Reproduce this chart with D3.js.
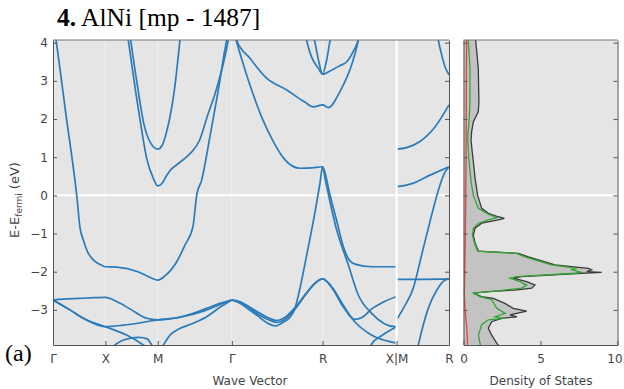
<!DOCTYPE html>
<html><head><meta charset="utf-8">
<script src="https://cdn.jsdelivr.net/npm/d3@7"></script>
<style>body{margin:0;background:#fff}svg{display:block}</style>
</head><body>
<svg id="chart" width="624" height="389"></svg>
<script>
// High-symmetry path of the simple-cubic Brillouin zone (k in units of 2π/a)
const kPoints = [0, 0.5, 1.0, 1.707, 2.573, 3.280, 3.780];
const kLabels = ["Γ", "X", "M", "Γ", "R", "X|M", "R"];
const energyTicks = [-3, -2, -1, 0, 1, 2, 3, 4];
const dosTicks = [0, 5, 10];

// Electronic bands, each as [k, E - E_fermi] points
const bandA = [[0,4.6],[0.029,4.07],[0.124,2.11],[0.21,0.38],[0.226,0.01],[0.258,-0.85],[0.289,-1.17],[0.33,-1.48],[0.385,-1.69],[0.45,-1.81],[0.5,-1.87],[0.608,-1.88],[0.811,-2.0],[0.93,-2.15],[1.0,-2.22],[1.069,-2.11],[1.181,-1.74],[1.26,-1.30],[1.336,-0.82],[1.372,0.01],[1.419,0.40],[1.499,1.55],[1.575,2.71],[1.658,4.07],[1.707,4.6]];
const bandF = [[0.70,5.0],[0.742,4.07],[0.805,2.89],[0.87,1.84],[0.93,1.38],[1.0,1.21],[1.04,1.3],[1.085,1.67],[1.165,2.89],[1.212,4.07],[1.25,5.0]];
const bandG = [[0.69,4.6],[0.719,4.07],[0.79,2.7],[0.83,2.0],[0.894,0.97],[0.957,0.45],[1.0,0.25],[1.04,0.31],[1.08,0.5],[1.12,0.66],[1.18,0.80],[1.25,0.95],[1.31,1.10],[1.40,1.45],[1.467,2.02],[1.563,2.81],[1.673,4.07],[1.71,4.7]];
const bandH = [[1.707,4.5],[1.752,4.07],[1.88,3.59],[2.039,3.07],[2.231,2.76],[2.40,2.45],[2.485,2.32],[2.573,2.37],[2.628,2.30],[2.739,2.72],[2.86,3.5],[2.915,4.07],[2.95,4.6]];
const bandI = [[1.707,4.45],[1.747,4.07],[1.88,2.89],[1.995,2.03],[2.103,1.41],[2.215,0.93],[2.358,0.71],[2.472,0.72],[2.573,0.75],[2.644,0.01],[2.711,-0.70],[2.771,-1.34],[2.816,-1.64],[2.883,-1.80],[3.042,-1.87],[3.28,-1.87]];
const bandJ1 = [[2.386,4.5],[2.42,4.07],[2.46,3.68],[2.53,3.34],[2.573,3.18],[2.608,3.49],[2.645,4.07],[2.673,4.5]];
const bandJ2 = [[2.45,4.7],[2.496,4.07],[2.534,3.55],[2.573,3.17],[2.645,3.26],[2.74,3.40],[2.804,3.50],[2.864,3.76],[2.914,4.07],[2.95,4.5]];
const bandK1 = [[1.707,-2.74],[1.78,-2.78],[1.85,-2.88],[1.95,-3.05],[2.05,-3.2],[2.135,-3.28],[2.2,-3.22],[2.31,-2.94],[2.42,-2.55],[2.5,-2.3],[2.573,-2.19],[2.67,-2.43],[2.765,-2.85],[2.88,-3.25],[2.95,-3.2],[3.04,-2.98],[3.15,-2.8],[3.28,-2.65]];
const bandK2 = [[1.707,-2.74],[1.78,-2.8],[1.85,-2.9],[1.95,-3.1],[2.05,-3.25],[2.135,-3.33],[2.2,-3.27],[2.31,-2.98],[2.42,-2.57],[2.5,-2.31],[2.573,-2.19],[2.67,-2.45],[2.765,-2.9],[2.88,-3.31],[3.04,-3.66],[3.28,-3.87]];
const bandK3 = [[1.707,-2.74],[1.78,-2.82],[1.85,-2.95],[1.95,-3.15],[2.05,-3.35],[2.12,-3.42],[2.2,-3.32],[2.26,-3.2],[2.31,-2.96],[2.36,-2.4],[2.422,-1.56],[2.5,-0.45],[2.55,0.35],[2.573,0.75],[2.6,0.4],[2.708,-0.91],[2.819,-1.82],[2.914,-2.61],[3.042,-3.09],[3.265,-3.44],[3.28,-3.44]];
const bandL5 = [[3.0,-4.2],[3.04,-3.9],[3.15,-3.65],[3.28,-3.44]];
const bandB = [[0,-2.74],[0.1,-2.72],[0.25,-2.70],[0.4,-2.68],[0.5,-2.67],[0.608,-2.78],[0.75,-3.0],[0.894,-3.22],[1.0,-3.26],[1.244,-3.17],[1.467,-2.96],[1.6,-2.82],[1.707,-2.74]];
const bandC = [[0,-2.74],[0.162,-3.0],[0.289,-3.22],[0.5,-3.44],[0.671,-3.40],[0.85,-3.33],[1.0,-3.26],[1.2,-3.2],[1.45,-3.02],[1.6,-2.85],[1.707,-2.74]];
const bandD = [[0,-2.74],[0.162,-3.0],[0.289,-3.22],[0.5,-3.44],[0.703,-3.66],[0.862,-3.92],[0.95,-4.1]];
const bandE = [[0.5,-4.3],[0.592,-3.92],[0.74,-3.74],[0.82,-3.72],[0.90,-3.76],[0.942,-3.92],[1.0,-4.15],[1.053,-3.92],[1.117,-3.66],[1.181,-3.53],[1.339,-3.35],[1.467,-3.18],[1.6,-2.92],[1.707,-2.74]];
const bandMR1 = [[3.28,1.21],[3.376,1.25],[3.503,1.41],[3.646,1.79],[3.78,2.37]];
const bandMR2 = [[3.28,0.23],[3.376,0.27],[3.44,0.32],[3.598,0.53],[3.78,0.75]];
const bandMR3 = [[3.65,4.6],[3.678,4.07],[3.71,3.68],[3.745,3.35],[3.78,3.16]];
const bandMR4 = [[3.28,-2.2],[3.53,-2.2],[3.78,-2.19]];
const bandMR5 = [[3.28,-3.26],[3.344,-2.96],[3.439,-2.43],[3.52,-1.55],[3.598,-0.69],[3.68,0.15],[3.74,0.6],[3.78,0.75]];
const bandMR6 = [[3.42,-4.8],[3.487,-3.92],[3.582,-2.96],[3.66,-2.5],[3.742,-2.22],[3.78,-2.19]];
const bands = [bandA, bandF, bandG, bandH, bandI, bandJ1, bandJ2, bandK1, bandK2, bandK3, bandL5,
               bandB, bandC, bandD, bandE, bandMR1, bandMR2, bandMR3, bandMR4, bandMR5, bandMR6];

// Density of states, [E - E_fermi, states/eV]
const dosTotal = [[4.07,0.79],[3.77,0.86],[3.33,0.96],[2.45,1.0],[2.19,0.96],[1.93,0.64],[1.67,0.53],[1.45,0.49],[1.2,0.55],[0.88,0.64],[0.45,0.75],[0.0,0.92],[-0.34,1.18],[-0.47,1.61],[-0.56,2.26],[-0.60,2.65],[-0.64,2.26],[-0.73,1.18],[-0.86,0.75],[-1.04,0.64],[-1.25,0.75],[-1.46,0.97],[-1.52,3.56],[-1.61,4.21],[-1.82,5.94],[-1.91,8.10],[-1.95,8.32],[-2.0,8.0],[-2.02,8.97],[-2.04,7.67],[-2.13,3.78],[-2.17,3.23],[-2.26,4.10],[-2.35,4.64],[-2.43,4.43],[-2.48,3.34],[-2.52,1.61],[-2.56,0.64],[-2.65,1.18],[-2.70,1.94],[-2.83,2.69],[-2.96,3.23],[-3.03,4.1],[-3.13,3.02],[-3.18,3.46],[-3.22,2.48],[-3.31,1.83],[-3.48,1.61],[-3.66,1.83],[-3.87,2.16],[-3.95,2.3]];
const dosNi = [[4.07,0.31],[3.33,0.42],[2.45,0.42],[1.93,0.36],[1.5,0.27],[0.88,0.36],[0.36,0.49],[0.0,0.64],[-0.34,0.96],[-0.49,1.61],[-0.58,2.16],[-0.64,1.61],[-0.73,0.97],[-0.86,0.64],[-1.04,0.58],[-1.25,0.71],[-1.46,0.92],[-1.52,3.46],[-1.61,3.99],[-1.82,5.72],[-1.91,7.36],[-1.95,7.03],[-2.02,7.67],[-2.04,7.25],[-2.13,3.46],[-2.17,3.02],[-2.26,3.67],[-2.35,4.1],[-2.43,3.78],[-2.50,2.26],[-2.56,0.64],[-2.65,1.07],[-2.73,1.83],[-2.96,2.16],[-3.09,2.7],[-3.18,2.05],[-3.22,2.59],[-3.26,1.61],[-3.39,1.18],[-3.66,0.97],[-3.87,1.07],[-3.95,1.1]];
const dosAl = [[4.07,0.2],[2.0,0.18],[0.0,0.15],[-1.5,0.1],[-2.0,0.08],[-2.6,0.05],[-3.0,0.1],[-3.4,0.2],[-3.95,0.27]];

const svg = d3.select("#chart");
const panelTop = 40, panelBottom = 345;
const bandLeft = 53, bandRight = 449;
const dosLeft = 463.5, dosRight = 617.5;
const axisFont = "'DejaVu Sans', Verdana, sans-serif";
const textColor = "#444";

const y = d3.scaleLinear().domain([-3.92, 4.07]).range([panelBottom, panelTop]);
const x = d3.scaleLinear().domain([0, 3.78]).range([bandLeft, bandRight]);
const xd = d3.scaleLinear().domain([0, 10]).range([dosLeft, dosRight]);

const defs = svg.append("defs");
defs.append("clipPath").attr("id", "clipBands").append("rect")
  .attr("x", bandLeft).attr("y", panelTop).attr("width", bandRight - bandLeft).attr("height", panelBottom - panelTop);
defs.append("clipPath").attr("id", "clipDos").append("rect")
  .attr("x", dosLeft).attr("y", panelTop).attr("width", dosRight - dosLeft).attr("height", panelBottom - panelTop);

// ---------- band structure panel ----------
const gb = svg.append("g");
gb.append("rect").attr("x", bandLeft).attr("y", panelTop)
  .attr("width", bandRight - bandLeft).attr("height", panelBottom - panelTop).attr("fill", "#e5e5e5");
gb.selectAll("line.kgrid").data(kPoints.slice(1, -1)).join("line").attr("class", "kgrid")
  .attr("x1", d => x(d)).attr("x2", d => x(d)).attr("y1", panelTop).attr("y2", panelBottom)
  .attr("stroke", "#f0f0f0").attr("stroke-width", 1);
gb.append("line").attr("x1", bandLeft).attr("x2", bandRight).attr("y1", y(0)).attr("y2", y(0))
  .attr("stroke", "#fff").attr("stroke-width", 2);

const bandLine = d3.line().x(d => x(d[0])).y(d => y(d[1])).curve(d3.curveMonotoneX);
gb.append("g").attr("clip-path", "url(#clipBands)")
  .selectAll("path").data(bands).join("path")
  .attr("d", bandLine).attr("fill", "none").attr("stroke", "#2b7bba").attr("stroke-width", 1.7);

// segment break at X|M
gb.append("line").attr("x1", x(kPoints[5])).attr("x2", x(kPoints[5])).attr("y1", panelTop).attr("y2", panelBottom - 1)
  .attr("stroke", "#fff").attr("stroke-width", 2.2);

function styleAxis(g) {
  g.selectAll("path.domain").attr("stroke", "#555").attr("stroke-width", 1);
  g.selectAll(".tick line").attr("stroke", "#555").attr("stroke-width", 1);
  g.selectAll(".tick text").attr("fill", textColor).attr("font-family", axisFont).attr("font-size", 12);
}

gb.append("g").attr("transform", `translate(${bandLeft},0)`)
  .call(d3.axisLeft(y).tickValues(energyTicks).tickSizeInner(-4).tickSizeOuter(0).tickPadding(5)
    .tickFormat(d => d < 0 ? "\u2212" + Math.abs(d) : d))
  .call(styleAxis);
gb.append("g").attr("transform", `translate(${bandRight},0)`)
  .call(d3.axisRight(y).tickValues(energyTicks).tickSizeInner(-4).tickSizeOuter(0).tickFormat(""))
  .call(styleAxis);
gb.append("g").attr("transform", `translate(0,${panelBottom})`)
  .call(d3.axisBottom(x).tickValues(kPoints).tickSizeInner(-4).tickSizeOuter(0).tickPadding(9)
    .tickFormat((d, i) => kLabels[i]))
  .call(styleAxis);
gb.append("line").attr("x1", bandLeft).attr("x2", bandRight).attr("y1", panelTop).attr("y2", panelTop)
  .attr("stroke", "#777").attr("stroke-width", 1.2);

// ---------- density of states panel ----------
const gd = svg.append("g");
gd.append("rect").attr("x", dosLeft).attr("y", panelTop)
  .attr("width", dosRight - dosLeft).attr("height", panelBottom - panelTop).attr("fill", "#e5e5e5");
gd.append("line").attr("x1", dosLeft).attr("x2", dosRight).attr("y1", y(0)).attr("y2", y(0))
  .attr("stroke", "#fff").attr("stroke-width", 2);

const dosG = gd.append("g").attr("clip-path", "url(#clipDos)");
dosG.append("path").datum(dosTotal)
  .attr("d", d3.area().y(d => y(d[0])).x0(xd(0)).x1(d => xd(d[1])).curve(d3.curveLinear))
  .attr("fill", "#c3c3c3");
const dosLine = d3.line().x(d => xd(d[1])).y(d => y(d[0]));
dosG.append("path").datum(dosAl).attr("d", dosLine).attr("fill", "none").attr("stroke", "#e8403a").attr("stroke-width", 1.3);
dosG.append("path").datum(dosTotal).attr("d", dosLine).attr("fill", "none").attr("stroke", "#3a3a3a").attr("stroke-width", 1.3);
dosG.append("path").datum(dosNi).attr("d", dosLine).attr("fill", "none").attr("stroke", "#35a435").attr("stroke-width", 1.3);

gd.append("g").attr("transform", `translate(${dosLeft},0)`)
  .call(d3.axisLeft(y).tickValues(energyTicks).tickSizeInner(-4).tickSizeOuter(0).tickFormat(""))
  .call(styleAxis);
gd.append("g").attr("transform", `translate(${dosRight},0)`)
  .call(d3.axisRight(y).tickValues(energyTicks).tickSizeInner(-4).tickSizeOuter(0).tickFormat(""))
  .call(styleAxis);
gd.append("g").attr("transform", `translate(0,${panelBottom})`)
  .call(d3.axisBottom(xd).tickValues(dosTicks).tickSizeInner(-4).tickSizeOuter(0).tickPadding(9))
  .call(styleAxis)
  .call(g => g.selectAll(".tick text").filter(d => d === 10).attr("dx", -3));
gd.append("line").attr("x1", dosLeft).attr("x2", dosRight).attr("y1", panelTop).attr("y2", panelTop)
  .attr("stroke", "#777").attr("stroke-width", 1.2);

// ---------- labels ----------
svg.append("text").attr("x", 250).attr("y", 385).attr("text-anchor", "middle")
  .attr("font-family", axisFont).attr("font-size", 12).attr("fill", textColor).text("Wave Vector");
svg.append("text").attr("x", 541).attr("y", 385).attr("text-anchor", "middle")
  .attr("font-family", axisFont).attr("font-size", 12).attr("fill", textColor).text("Density of States");

const yl = svg.append("text").attr("transform", "translate(19,200) rotate(-90)").attr("text-anchor", "middle")
  .attr("font-family", axisFont).attr("font-size", 13).attr("fill", textColor);
yl.append("tspan").text("E-E");
yl.append("tspan").attr("font-size", 9).attr("dy", 3).text("fermi");
yl.append("tspan").attr("dy", -3).text(" (eV)");

const title = svg.append("text").attr("x", 57).attr("y", 26)
  .attr("font-family", "'Liberation Serif', 'Times New Roman', serif").attr("font-size", 25.5).attr("fill", "#000");
title.append("tspan").attr("font-weight", "bold").text("4.");
title.append("tspan").text(" AlNi [mp - 1487]");

svg.append("text").attr("x", 5).attr("y", 361)
  .attr("font-family", "'Liberation Serif', 'Times New Roman', serif").attr("font-size", 24).attr("fill", "#000").text("(a)");
</script>
</body></html>
